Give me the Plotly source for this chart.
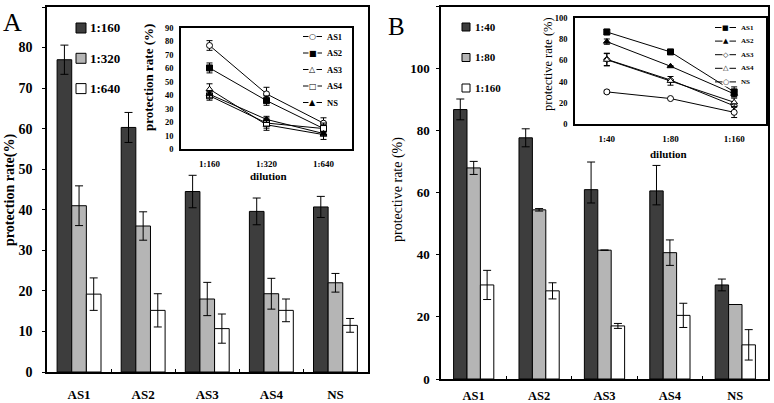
import plotly.graph_objects as go

W, H = 774, 403

# ---------------- data ----------------
categories = ["AS1", "AS2", "AS3", "AS4", "NS"]

# Panel A (dilutions 1:160, 1:320, 1:640)
dil_A = ["1:160", "1:320", "1:640"]
A_160 = [77.0, 60.3, 44.5, 39.6, 40.7]
A_160_err = [3.6, 3.7, 4.0, 3.3, 2.6]
A_320 = [41.0, 36.0, 18.0, 19.3, 22.0]
A_320_err = [4.9, 3.5, 4.1, 3.8, 2.3]
A_640 = [19.2, 15.2, 10.7, 15.2, 11.5]
A_640_err = [4.0, 4.1, 3.6, 2.8, 1.7]

# Panel B (dilutions 1:40, 1:80, 1:160)
dil_B = ["1:40", "1:80", "1:160"]
B_40 = [86.8, 77.7, 61.0, 60.6, 30.3]
B_40_err_plus = [3.4, 2.9, 8.9, 8.2, 1.9]
B_40_err_minus = [3.3, 2.9, 4.3, 4.5, 1.9]
B_80 = [68.0, 54.5, 41.5, 40.7, 24.0]
B_80_err = [2.1, 0.4, 0.0, 4.1, 0.0]
B_160 = [30.3, 28.4, 17.1, 20.5, 11.0]
B_160_err = [4.7, 2.6, 0.8, 3.9, 4.9]
B_inset_40_err = [2.5, 2.5, 5.8, 5.8, 1.5]

# ---------------- styling ----------------
SERIF = "Liberation Serif"
DARK, GRAY, WHITE = "#3d3d3d", "#b5b5b5", "#ffffff"


def fx(px):
    return px / W


def fy(py):
    return 1 - py / H


fig = go.Figure()

# ---- main bars ----
def add_bars(series, xa, ya, group_w):
    n = len(series)
    w = group_w / n
    for i, (name, vals, eplus, eminus, col) in enumerate(series):
        fig.add_trace(go.Bar(
            x=categories, y=vals, name=name,
            width=w, offset=-group_w / 2 + i * w,
            marker=dict(color=col, line=dict(color="black", width=1)),
            error_y=dict(type="data", array=eplus, arrayminus=eminus, symmetric=False,
                         color="black", thickness=1, width=4, visible=True),
            xaxis=xa, yaxis=ya, showlegend=False))


barsA = [("1:160", A_160, A_160_err, A_160_err, DARK),
         ("1:320", A_320, A_320_err, A_320_err, GRAY),
         ("1:640", A_640, A_640_err, A_640_err, WHITE)]
barsB = [("1:40", B_40, B_40_err_plus, B_40_err_minus, DARK),
         ("1:80", B_80, B_80_err, B_80_err, GRAY),
         ("1:160", B_160, B_160_err, B_160_err, WHITE)]
add_bars(barsA, "x", "y", 0.685)
add_bars(barsB, "x3", "y3", 0.615)

# ---- inset lines ----
insetA_sym = [("circle", WHITE), ("square", "black"), ("triangle-up", WHITE),
              ("square", WHITE), ("triangle-up", "black")]
insetB_sym = [("square", "black"), ("triangle-up", "black"), ("diamond", WHITE),
              ("triangle-up", WHITE), ("circle", WHITE)]

for j, cat in enumerate(categories):
    ys = [A_160[j], A_320[j], A_640[j]]
    es = [A_160_err[j], A_320_err[j], A_640_err[j]]
    sym, fill = insetA_sym[j]
    fig.add_trace(go.Scatter(
        x=dil_A, y=ys, name=cat, mode="lines+markers",
        line=dict(color="black", width=1),
        marker=dict(symbol=sym, size=6, color=fill, line=dict(color="black", width=1)),
        error_y=dict(type="data", array=es, color="black", thickness=1, width=3),
        xaxis="x2", yaxis="y2", showlegend=False))

for j, cat in enumerate(categories):
    ys = [B_40[j], B_80[j], B_160[j]]
    es = [B_inset_40_err[j], B_80_err[j], B_160_err[j]]
    sym, fill = insetB_sym[j]
    fig.add_trace(go.Scatter(
        x=dil_B, y=ys, name=cat, mode="lines+markers",
        line=dict(color="black", width=1),
        marker=dict(symbol=sym, size=6 if sym != "diamond" else 5, color=fill,
                    line=dict(color="black", width=1)),
        error_y=dict(type="data", array=es, color="black", thickness=1, width=3),
        xaxis="x4", yaxis="y4", showlegend=False))

# ---------------- axes ----------------
def bold(size):
    return dict(family=SERIF, size=size, color="black", weight="bold")


frame = dict(showline=True, mirror=True, linecolor="black", linewidth=1.5,
             showgrid=False, zeroline=False, automargin=False)

layout = dict(
    width=W, height=H, margin=dict(l=0, r=0, t=0, b=0, autoexpand=False),
    paper_bgcolor="white", plot_bgcolor="white", showlegend=False,
    barmode="overlay",
    xaxis=dict(domain=[fx(47), fx(367.5)], anchor="y", type="category",
               range=[-0.5, 4.5], ticks="inside", tickson="boundaries", ticklen=3,
               tickcolor="black", tickfont=bold(13), ticklabelstandoff=10, **frame),
    yaxis=dict(domain=[fy(372), fy(7)], anchor="x", range=[0, 90], dtick=10,
               ticks="outside", ticklen=3, tickcolor="black",
               tickfont=bold(14), ticklabelstandoff=7, **frame),
    xaxis2=dict(domain=[fx(181), fx(352)], anchor="y2", type="category",
                range=[-0.5, 2.5], ticks="", tickfont=bold(9), ticklabelstandoff=5, **frame),
    yaxis2=dict(domain=[fy(149), fy(28)], anchor="x2", range=[0, 90], dtick=10,
                ticks="", tickfont=bold(8.5), ticklabelstandoff=4, **frame),
    xaxis3=dict(domain=[fx(441), fx(768)], anchor="y3", type="category",
                range=[-0.5, 4.5], ticks="inside", tickson="boundaries", ticklen=3,
                tickcolor="black", tickfont=bold(12.5), ticklabelstandoff=4, **frame),
    yaxis3=dict(domain=[fy(379), fy(6.5)], anchor="x3", range=[0, 120], dtick=20,
                ticks="outside", ticklen=3, tickcolor="black",
                tickfont=bold(13), ticklabelstandoff=4, **frame),
    xaxis4=dict(domain=[fx(575), fx(766)], anchor="y4", type="category",
                range=[-0.5, 2.5], ticks="", tickfont=bold(9), ticklabelstandoff=5, **frame),
    yaxis4=dict(domain=[fy(124), fy(18)], anchor="x4", range=[0, 100], dtick=20,
                ticks="", tickfont=bold(8.5), ticklabelstandoff=4, **frame),
)
fig.update_layout(**layout)

ann = []
shapes = []


def text(x, y, s, size, weight="bold", angle=0, xanchor="center", family=SERIF):
    ann.append(dict(x=fx(x), y=fy(y), xref="paper", yref="paper", text=s,
                    showarrow=False, textangle=angle, xanchor=xanchor, yanchor="middle",
                    font=dict(family=family, size=size, color="black", weight=weight)))


# panel letters and titles
text(12, 23, "A", 26, weight="normal")
text(396, 27, "B", 25, weight="normal")
text(10, 190, "protection rate(%)", 14, angle=-90)
text(398, 190, "protective rate (%)", 14, weight="normal", angle=-90)
text(148, 78, "protection rate (%)", 13, angle=-90)
text(548, 64, "protective rate (%)", 12.5, weight="normal", angle=-90)
text(268, 176, "dilution", 11)
text(668, 154, "dilution", 11)

# bar legends
for i, (name, _, _, _, col) in enumerate(barsA):
    yc = 28 + i * 30.3
    shapes.append(dict(type="rect", xref="paper", yref="paper",
                       x0=fx(76), x1=fx(86), y0=fy(yc + 5), y1=fy(yc - 5),
                       fillcolor=col, line=dict(color="black", width=1)))
    text(88, yc, name, 13, xanchor="left")
for i, (name, _, _, _, col) in enumerate(barsB):
    yc = 27 + i * 30.5
    shapes.append(dict(type="rect", xref="paper", yref="paper",
                       x0=fx(462), x1=fx(470), y0=fy(yc + 4), y1=fy(yc - 4),
                       fillcolor=col, line=dict(color="black", width=1)))
    text(473, yc, name, 11, xanchor="left")

# inset legends
GLYPH = {("circle", True): "●", ("circle", False): "○",
         ("square", True): "■", ("square", False): "□",
         ("triangle-up", True): "▲", ("triangle-up", False): "△",
         ("diamond", True): "◆", ("diamond", False): "◇"}


def inset_legend(syms, x0, x1, y0, step, gsize, tsize):
    for i, cat in enumerate(categories):
        yc = y0 + i * step
        sym, fill = syms[i]
        shapes.append(dict(type="line", xref="paper", yref="paper",
                           x0=fx(x0), x1=fx(x1), y0=fy(yc), y1=fy(yc),
                           line=dict(color="black", width=1)))
        ann.append(dict(x=fx((x0 + x1) / 2), y=fy(yc), xref="paper", yref="paper",
                        text=GLYPH[(sym, fill == "black")], showarrow=False,
                        xanchor="center", yanchor="middle", bgcolor="white", borderpad=0,
                        font=dict(family="DejaVu Sans", size=gsize, color="black")))
        text(x1 + 3, yc, cat, tsize, xanchor="left")


inset_legend(insetA_sym, 303, 322, 36.5, 16.5, 8, 8.5)
inset_legend(insetB_sym, 715, 736, 27.5, 13.6, 7, 7)

fig.update_layout(annotations=ann, shapes=shapes)
fig.write_html("out.html", config={"displayModeBar": False},
               post_script="document.body.style.margin='0';document.body.style.overflow='hidden';")
